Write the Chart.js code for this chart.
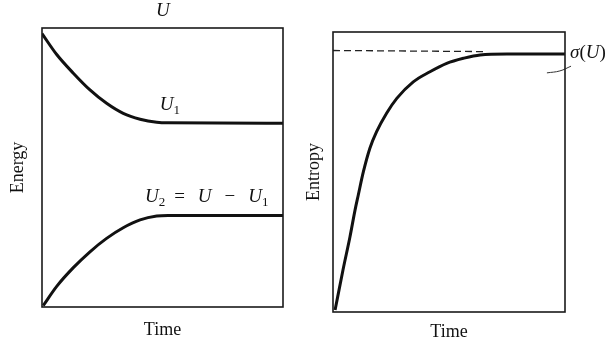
<!DOCTYPE html>
<html>
<head>
<meta charset="utf-8">
<title>Energy and entropy vs time</title>
<script src="https://cdn.jsdelivr.net/npm/chart.js@4.4.1/dist/chart.umd.min.js"></script>
<style>
  html, body { margin: 0; padding: 0; background: #fff; }
  #wrap { position: relative; width: 615px; height: 343px; overflow: hidden; }
  .panel { position: absolute; top: 0; }
  #energyChart { left: 0; }
  #entropyChart { left: 300px; }
</style>
</head>
<body>
<div id="wrap">
  <canvas id="energyChart" class="panel" width="300" height="343"></canvas>
  <canvas id="entropyChart" class="panel" width="315" height="343"></canvas>
</div>
<script>
// values (arbitrary units, both axes 0..10)
const u1Time = [0, 0.61, 1.30, 1.99, 2.68, 3.37, 4.07, 4.76, 5.23, 10];
const u1Energy = [9.8, 9.05, 8.38, 7.78, 7.30, 6.94, 6.73, 6.62, 6.60, 6.59];
const u2Time = [0.05, 0.61, 1.30, 1.99, 2.68, 3.37, 4.07, 4.76, 5.23, 10];
const u2Energy = [0.05, 0.74, 1.41, 1.98, 2.46, 2.84, 3.12, 3.26, 3.28, 3.28];

const sTime = [0.09, 0.43, 0.73, 0.95, 1.09, 1.31, 1.59, 1.88, 2.31, 2.75, 3.46, 4.18, 4.90, 5.62, 6.34, 7.5, 10];
const sValue = [0.07, 1.5, 2.68, 3.64, 4.18, 5.01, 5.85, 6.44, 7.10, 7.63, 8.22, 8.58, 8.88, 9.06, 9.18, 9.21, 9.21];
const sigmaTime = [0, 6.6];
const sigmaLevel = [9.34, 9.3];
const leaderTime = [9.22, 9.78, 10.26];
const leaderValue = [8.54, 8.61, 8.78];

const serif = '"Liberation Serif", "DejaVu Serif", serif';
const ink = '#111';

const pts = (xs, ys) => xs.map((x, i) => ({ x, y: ys[i] }));

// draws U, subscripts and operators piece by piece
function drawRich(ctx, parts, x, y, align, size) {
  const subSize = Math.round(size * 0.66);
  const fontOf = p => `${p.italic ? 'italic ' : ''}${p.sub ? subSize : size}px ${serif}`;
  const widths = parts.map(p => { ctx.font = fontOf(p); return ctx.measureText(p.t).width + (p.gap || 0); });
  const total = widths.reduce((a, b) => a + b, 0);
  let cx = align === 'center' ? x - total / 2 : x;
  ctx.save();
  ctx.fillStyle = ink;
  ctx.textBaseline = 'middle';
  ctx.textAlign = 'left';
  parts.forEach((p, i) => {
    ctx.font = fontOf(p);
    ctx.fillText(p.t, cx, p.sub ? y + size * 0.3 : y);
    cx += widths[i];
  });
  ctx.restore();
}

const framePlugin = {
  id: 'frame',
  afterDatasetsDraw(chart) {
    const { ctx, chartArea: a } = chart;
    ctx.save();
    ctx.strokeStyle = '#1a1a1a';
    ctx.lineWidth = 1.6;
    ctx.strokeRect(a.left, a.top, a.right - a.left, a.bottom - a.top);
    ctx.restore();
  }
};

const energyLabels = {
  id: 'energyLabels',
  afterDraw(chart) {
    const { ctx, scales: { x, y } } = chart;
    drawRich(ctx, [{ t: 'U', italic: true }], x.getPixelForValue(5.02), y.getPixelForValue(10.6), 'center', 19);
    drawRich(ctx, [{ t: 'U', italic: true }, { t: '1', sub: true }], x.getPixelForValue(5.31), y.getPixelForValue(7.24), 'center', 19);
    drawRich(ctx, [
      { t: 'U', italic: true }, { t: '2', sub: true, gap: 9 },
      { t: '=', gap: 13 }, { t: 'U', italic: true, gap: 13 },
      { t: '\u2212', gap: 13 }, { t: 'U', italic: true }, { t: '1', sub: true }
    ], x.getPixelForValue(4.27), y.getPixelForValue(3.94), 'left', 19);
  }
};

const entropyLabels = {
  id: 'entropyLabels',
  afterDraw(chart) {
    const { ctx, scales: { x, y } } = chart;
    drawRich(ctx, [{ t: '\u03C3', italic: true }, { t: '(' }, { t: 'U', italic: true }, { t: ')' }],
      x.getPixelForValue(10.22), y.getPixelForValue(9.25), 'left', 19);
  }
};

function axes(xTitle, yTitle, xPad, yPad) {
  const common = {
    type: 'linear', min: 0, max: 10,
    ticks: { display: false },
    grid: { display: false, drawTicks: false },
    border: { display: false }
  };
  return {
    x: { ...common, position: 'bottom', title: { display: true, text: xTitle, color: ink, font: { family: serif, size: 18 }, padding: xPad } },
    y: { ...common, position: 'left', title: { display: true, text: yTitle, color: ink, font: { family: serif, size: 18 }, padding: yPad } }
  };
}

const baseOptions = {
  responsive: false,
  animation: false,
  events: [],
  plugins: { legend: { display: false }, tooltip: { enabled: false } },
  elements: { point: { radius: 0 } }
};

new Chart(document.getElementById('energyChart'), {
  type: 'line',
  data: {
    datasets: [
      { label: 'U1', data: pts(u1Time, u1Energy), borderColor: ink, borderWidth: 3, cubicInterpolationMode: 'monotone' },
      { label: 'U2', data: pts(u2Time, u2Energy), borderColor: ink, borderWidth: 3, cubicInterpolationMode: 'monotone' }
    ]
  },
  options: {
    ...baseOptions,
    layout: { padding: { left: 0, right: 17, top: 28, bottom: 0 } },
    scales: axes('Time', 'Energy', { top: 12.2, bottom: 2.2 }, { top: 7.2, bottom: 13.2 })
  },
  plugins: [framePlugin, energyLabels]
});

new Chart(document.getElementById('entropyChart'), {
  type: 'line',
  data: {
    datasets: [
      { label: 'S', data: pts(sTime, sValue), borderColor: ink, borderWidth: 3, cubicInterpolationMode: 'monotone' },
      { label: 'sigma(U)', data: pts(sigmaTime, sigmaLevel), borderColor: '#222', borderWidth: 1.3, borderDash: [7, 4] },
      { label: 'leader', data: pts(leaderTime, leaderValue), borderColor: '#333', borderWidth: 1, tension: 0.4, clip: false }
    ]
  },
  options: {
    ...baseOptions,
    layout: { padding: { left: 0, right: 50, top: 32, bottom: 0 } },
    scales: axes('Time', 'Entropy', { top: 9.2, bottom: 0.2 }, { top: 3.2, bottom: 8.2 })
  },
  plugins: [framePlugin, entropyLabels]
});
</script>
</body>
</html>
